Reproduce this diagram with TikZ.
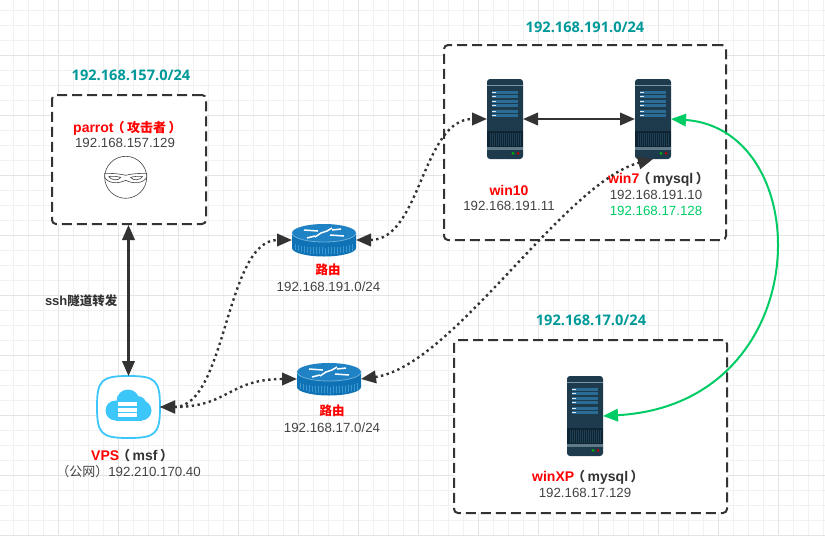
\documentclass[tikz,border=0pt]{standalone}
\usepackage{fontspec}
\setmainfont{Liberation Sans}
\newfontfamily\cjk{Noto Sans CJK SC}
\newfontfamily\opensans{Open Sans}
\usetikzlibrary{arrows.meta}

\newcommand{\openpar}{{\cjk\fontsize{13}{15}\selectfont\kern-2pt（\kern2.5pt}}
\newcommand{\closepar}{{\cjk\fontsize{13}{15}\selectfont\kern2.5pt）\kern-7pt}}

\definecolor{gridmajor}{HTML}{E4E4E4}
\definecolor{gridminor}{HTML}{F1F1F1}
\definecolor{darkline}{HTML}{333333}
\definecolor{nettext}{HTML}{009999}
\definecolor{iptext}{HTML}{444444}
\definecolor{namered}{HTML}{FF0000}
\definecolor{linkgreen}{HTML}{00CC66}
\definecolor{serverbody}{HTML}{1E3B4E}
\definecolor{serverdark}{HTML}{0E2433}
\definecolor{serverpanel}{HTML}{2B6C96}
\definecolor{serverstripe}{HTML}{7C95A2}
\definecolor{routerbody}{HTML}{0E72B4}
\definecolor{routertop}{HTML}{1F82C4}
\definecolor{routerrib}{HTML}{3C98D2}
\definecolor{cloudblue}{HTML}{3CC6FA}

\tikzset{
	netbox/.style={draw=darkline, fill=white, line width=2pt, rounded corners=4pt, dash pattern=on 10pt off 5pt, inner sep=0pt},
	iconbox/.style={inner sep=0pt, outer sep=0pt},
	nettag/.style={text=nettext, font=\opensans\bfseries\fontsize{14.6}{17}\selectfont, inner sep=0pt},
	nametag/.style={text=namered, font=\bfseries\fontsize{14}{16}\selectfont, inner sep=0pt},
	iptag/.style={text=iptext, font=\fontsize{13.3}{16}\selectfont, inner sep=0pt},
	solidlink/.style={<->, darkline, line width=2.2pt},
	dotlink/.style={<->, darkline, line width=2.4pt, dash pattern=on 2.4pt off 3.4pt},
	greenlink/.style={<->, linkgreen, line width=2pt},
	serverpic/.pic={
		\fill[serverbody, rounded corners=3pt] (-18,-40) rectangle (18,40);
		\fill[serverstripe] (-18,-34) rectangle (18,-32.8);
		\foreach \y in {-28.3,-19,-9}{
			\fill[serverpanel] (-13.3,\y) rectangle (12.7,\y+3.2);
			\fill[serverpanel] (-13.3,\y+4) rectangle (12.7,\y+7.2);
			\fill[white!85!serverpanel] (-13.3,\y+1) rectangle (-9,\y+2);
			\fill[white!85!serverpanel] (-13.3,\y+5) rectangle (-9,\y+6);
		}
		\fill[serverdark] (-18,11.7) rectangle (18,28);
		\foreach \x in {-15.5,-13.5,...,15.5}{
			\fill[serverbody!90!serverpanel] (\x,14) rectangle (\x+.8,27);
		}
		\fill[serverstripe!70!serverbody] (-18,28) rectangle (18,30.5);
		\fill[green!70!black] (8,34.3) circle (1.5);
		\fill[red!75!black] (13,34.3) circle (1.5);
	},
	routerpic/.pic={
		\fill[routerbody] (-32,-7) -- (-32,8) arc[start angle=180, end angle=360, x radius=32, y radius=-8.5] -- (32,-7) -- cycle;
		\foreach \x in {-29,-26,...,29}{
			\draw[routerrib, line width=.8pt] (\x,{1+6.5*sqrt(1-(\x/32)^2)}) -- (\x,{7+7.5*sqrt(1-(\x/32)^2)});
		}
		\fill[routertop] (0,-7) ellipse[x radius=32, y radius=9];
		\draw[white!35!routertop, line width=.8pt] (-32,-7) arc[start angle=180, end angle=360, x radius=32, y radius=-9];
		\draw[white, line width=1.5pt] (-20,-10) -- (-6,-9);
		\draw[white, line width=1.5pt] (6,-5) -- (20,-4);
		\draw[white, line width=1.5pt] (-9,-3) -- (-3,-7) -- (3,-9) -- (8,-12);
		\draw[white, line width=1.5pt] (-17,-2) -- (-9,-4);
		\draw[white, line width=1.5pt] (8,-10) -- (17,-11);
	},
	vpspic/.pic={
		\draw[cloudblue, fill=white, line width=1.8pt] (-31.5,0) .. controls (-31.5,-27) and (-27,-31) .. (0,-31) .. controls (27,-31) and (31.5,-27) .. (31.5,0) .. controls (31.5,27) and (27,31) .. (0,31) .. controls (-27,31) and (-31.5,27) .. (-31.5,0) -- cycle;
		\fill[cloudblue] (-.5,-6) circle (11.5);
		\fill[cloudblue] (9,-2) circle (9);
		\fill[cloudblue] (-13,3.5) circle (10);
		\fill[cloudblue] (13,3.5) circle (10);
		\fill[cloudblue] (-13,0) rectangle (13,13.5);
		\foreach \y in {-5,.5,6}{
			\fill[white] (-10.5,\y) rectangle (8.5,\y+4.4);
		}
	},
	hackerpic/.pic={
		\draw[iptext, fill=white, line width=.6pt] (0,0) circle (21);
		\draw[iptext, fill=white, line width=.6pt] (-21,-4) .. controls (-10,-4) and (-4,-3) .. (0,-2) .. controls (4,-3) and (10,-4) .. (21,-4) -- (21,0) .. controls (18,6) and (8,7) .. (0,3) .. controls (-8,7) and (-18,6) .. (-21,0) -- cycle;
		\draw[iptext, line width=.6pt] (-17,-1) .. controls (-10,-1) .. (-5,0) .. controls (-7,4) and (-15,3) .. (-17,-1);
		\draw[iptext, line width=.6pt] (17,-1) .. controls (10,-1) .. (5,0) .. controls (7,4) and (15,3) .. (17,-1);
	},
}

\begin{document}
\begin{tikzpicture}[x=1pt, y=-1pt, >={Triangle[length=15pt,width=12.5pt]}]
	\useasboundingbox (0,0) rectangle (825,536);
	\fill[white] (0,0) rectangle (825,536);

	% grid
	\foreach \x in {13.5,28.5,...,825} \draw[gridminor, line width=1pt] (\x,0) -- (\x,536);
	\foreach \y in {10,25,...,536} \draw[gridminor, line width=1pt] (0,\y) -- (825,\y);
	\foreach \x in {58.5,118.5,...,825} \draw[gridmajor, line width=1pt] (\x,0) -- (\x,536);
	\foreach \y in {55,115,...,536} \draw[gridmajor, line width=1pt] (0,\y) -- (825,\y);

	% subnets
	\node[netbox, minimum width=154pt, minimum height=129pt] (parrotbox) at (129,159.5) {};
	\node[netbox, minimum width=282pt, minimum height=195pt] (winbox) at (585,142.5) {};
	\node[netbox, minimum width=273pt, minimum height=173pt] (xpbox) at (590.5,426.5) {};

	\node[nettag] (netparrot) at (131,75) {192.168.157.0/24};
	\node[nettag] (netwin) at (585,27) {192.168.191.0/24};
	\node[nettag] (netxp) at (591,320) {192.168.17.0/24};

	% hosts
	\node[iconbox, minimum width=36pt, minimum height=80pt] (win10) at (505,119) {};
	\node[iconbox, minimum width=36pt, minimum height=80pt] (win7) at (653,119) {};
	\node[iconbox, minimum width=36pt, minimum height=80pt] (winxp) at (585,416) {};
	\node[iconbox, minimum width=64pt, minimum height=33pt] (routera) at (324,240) {};
	\node[iconbox, minimum width=64pt, minimum height=33pt] (routerb) at (329,379) {};
	\node[iconbox, minimum width=63pt, minimum height=62pt] (vps) at (128.5,407) {};
	\node[iconbox, minimum size=42pt] (hacker) at (125.7,177.3) {};

	\pic at (win10) {serverpic};
	\pic at (win7) {serverpic};
	\pic at (winxp) {serverpic};
	\pic at (routera) {routerpic};
	\pic at (routerb) {routerpic};
	\pic at (vps) {vpspic};
	\pic at (hacker) {hackerpic};

	% labels
	\node[nametag, anchor=west] (parrotname) at (73,128) {parrot\openpar{\cjk\fontsize{13}{15}\selectfont 攻击者}\closepar};
	\node[iptag] (parrotip) at (125,143) {192.168.157.129};
	\node[nametag] (win10name) at (509,190) {win10};
	\node[iptag] (win10ip) at (509,206) {192.168.191.11};
	\node[nametag, anchor=west] (win7name) at (608,179) {win7\textcolor{darkline}{\openpar mysql\closepar}};
	\node[iptag] (win7ip) at (656,195) {192.168.191.10};
	\node[iptag, text=linkgreen] (win7ipb) at (656,211) {192.168.17.128};
	\node[nametag, anchor=west] (xpname) at (532,477) {winXP\textcolor{darkline}{\openpar mysql\closepar}};
	\node[iptag] (xpip) at (585,493) {192.168.17.129};
	\node[nametag, font=\cjk\bfseries\fontsize{12.5}{15}\selectfont] (routeraname) at (328,270) {路由};
	\node[iptag] (routeraip) at (328.5,287) {192.168.191.0/24};
	\node[nametag, font=\cjk\bfseries\fontsize{12.5}{15}\selectfont] (routerbname) at (332,411) {路由};
	\node[iptag] (routerbip) at (332,428) {192.168.17.0/24};
	\node[nametag, anchor=west] (vpsname) at (91,456) {VPS\textcolor{darkline}{\openpar msf\closepar}};
	\node[iptag, anchor=east] (vpsip) at (201,472) {{\cjk\fontsize{13}{15}\selectfont （公网）}192.210.170.40};

	% links
	\draw[solidlink] (vps.north) -- node[pos=.5, left=10pt, text=darkline, font=\bfseries\fontsize{13}{15}\selectfont, inner sep=0pt]{ssh{\cjk\fontsize{12.5}{15}\selectfont 隧道转发}} (vps.north |- parrotbox.south);
	\draw[solidlink] (win10.east) -- (win7.west);
	\draw[dotlink] (vps.east) to[out=0, in=180, looseness=.8] (routera.west);
	\draw[dotlink] (vps.east) to[out=0, in=180, looseness=1.25] (routerb.west);
	\draw[dotlink] (routera.east) to[out=0, in=180, looseness=.93] (win10.west);
	\draw[dotlink] (routerb.east) to[out=8, in=195, looseness=.65] (win7.south);
	\draw[greenlink] (win7.east) .. controls +(147,10) and +(216,-12) .. (winxp.east);
\end{tikzpicture}
\end{document}
